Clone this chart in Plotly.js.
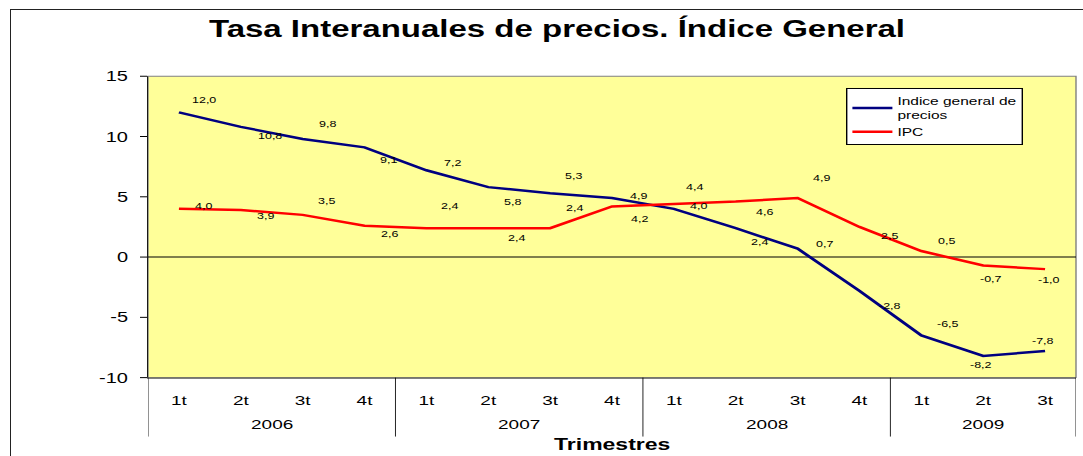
<!DOCTYPE html>
<html>
<head>
<meta charset="utf-8">
<script src="https://cdn.plot.ly/plotly-3.0.1.min.js"></script>
<style>
html,body{margin:0;padding:0;background:#fff;}
#wrap{width:1083px;height:456px;overflow:hidden;position:relative;}
#chart{width:1083px;height:640px;transform:scaleY(0.7125);transform-origin:0 0;}
#frame{position:absolute;left:10px;top:9px;width:1200px;height:600px;border-left:1px solid #222;border-top:1px solid #222;pointer-events:none;}
</style>
</head>
<body>
<div id="wrap"><div id="chart"></div><div id="frame"></div></div>
<script>
// ---- data ----
const years = ["2006","2006","2006","2006","2007","2007","2007","2007","2008","2008","2008","2008","2009","2009","2009"];
const quarters = ["1t","2t","3t","4t","1t","2t","3t","4t","1t","2t","3t","4t","1t","2t","3t"];
const indiceGeneral = [12.0, 10.8, 9.8, 9.1, 7.2, 5.8, 5.3, 4.9, 4.0, 2.4, 0.7, -2.8, -6.5, -8.2, -7.8];
const ipc = [4.0, 3.9, 3.5, 2.6, 2.4, 2.4, 2.4, 4.2, 4.4, 4.6, 4.9, 2.5, 0.5, -0.7, -1.0];
const yTicks = [-10, -5, 0, 5, 10, 15];
const seriesNames = ["Indice general de<br>precios", "IPC"];
const titleText = "Tasa Interanuales de precios. Índice General";
const xTitle = "Trimestres";

// ---- label placement (styling: pixel offsets of data labels) ----
const S = 640/456; // vertical stretch compensation
const offBlue = [[25,12],[29,-9],[25,15],[24,-13],[26,7],[24,-15],[23,17],[26,1],[25,2],[24,-14],[27,5],[31,-15],[27,11],[-2,-9],[-2,10]];
const offRed  = [[25,2],[25,-6],[24,13],[25,-9],[23,22],[28,-10],[24,20],[27,-12],[21,17],[29,-11],[24,20],[30,-9],[25,10],[8,-14],[4,-11]];

const FONT = "Liberation Sans, Arial, sans-serif";
const fmt = v => v.toFixed(1).replace('.', ',');
const PLOT_H = 423.5;

// category positions derived from the category arrays
const idx = quarters.map((q,i)=>i);
const groups = [];
years.forEach((y,i)=>{
  if(!groups.length || groups[groups.length-1].name !== y) groups.push({name:y, start:i, end:i});
  else groups[groups.length-1].end = i;
});
const bounds = [groups[0].start-0.5].concat(groups.map(g=>g.end+0.5));
const xr = [-0.5, quarters.length-0.5];

const traces = [
  {x:idx, y:indiceGeneral, type:'scatter', mode:'lines', name:seriesNames[0],
   line:{color:'#000080', width:3.5}},
  {x:idx, y:ipc, type:'scatter', mode:'lines', name:seriesNames[1],
   line:{color:'#FF0000', width:3.5}}
];

const annotations = [];
function addLabels(vals, offs){
  vals.forEach((v,i)=>{
    annotations.push({x:idx[i], y:v, xref:'x', yref:'y', text:fmt(v), showarrow:false,
      xanchor:'center', yanchor:'middle', xshift:offs[i][0], yshift:offs[i][1]*S,
      font:{family:FONT, size:12.5, color:'#000'}});
  });
}
addLabels(indiceGeneral, offBlue);
addLabels(ipc, offRed);

// year group labels (second category level)
groups.forEach(g=>{
  annotations.push({x:(g.start+g.end)/2, y:-66/PLOT_H, xref:'x', yref:'paper', text:g.name, showarrow:false,
    xanchor:'center', yanchor:'middle', font:{family:FONT, size:19, color:'#000'}});
});

// axis title
annotations.push({x:0.5, y:-93/PLOT_H, xref:'paper', yref:'paper', text:'<b>'+xTitle+'</b>', showarrow:false,
  xanchor:'center', yanchor:'middle', font:{family:FONT, size:23, color:'#000'}});

// year group dividers below the category axis
const dividerDepth = 59*S/PLOT_H;
const dividers = bounds.map(b=>({type:'line', xref:'x', yref:'paper', x0:b, x1:b, y0:0, y1:-dividerDepth,
  line:{color:'#000', width:1}}));

const layout = {
  width:1083, height:640,
  margin:{l:148, r:7, t:107, b:110},
  paper_bgcolor:'#ffffff',
  plot_bgcolor:'#FFFF99',
  font:{family:FONT, color:'#000'},
  title:{text:titleText, font:{family:FONT, size:33, color:'#000', weight:'bold'},
         x:557/1083, xref:'container', xanchor:'center', y:1-40/640, yref:'container', yanchor:'middle'},
  xaxis:{range:xr, tickmode:'array', tickvals:idx, ticktext:quarters, showgrid:false, zeroline:false,
         showline:true, linecolor:'#000', linewidth:1.4, ticks:'', ticklabelstandoff:14,
         tickfont:{family:FONT, size:19, color:'#000'}},
  yaxis:{range:[-10,15], tickmode:'array', tickvals:yTicks, ticktext:yTicks.map(String),
         showgrid:false, zeroline:true, zerolinecolor:'#000', zerolinewidth:1.4,
         showline:true, linecolor:'#000', linewidth:1, ticks:'outside', ticklen:7, tickcolor:'#000', tickwidth:1.4,
         ticklabelstandoff:8, tickfont:{family:FONT, size:20, color:'#000'}},
  showlegend:true,
  legend:{x:(846-148)/928, xanchor:'left', y:0.961, yanchor:'top', bgcolor:'#ffffff', bordercolor:'#000', borderwidth:1.4,
          font:{family:FONT, size:15.5, color:'#000'}, tracegroupgap:0, itemwidth:40},
  annotations: annotations,
  shapes:[
    {type:'rect', xref:'paper', yref:'paper', x0:0, x1:1, y0:0, y1:1, line:{color:'#808080', width:1.4}, layer:'below'}
  ].concat(dividers)
};

Plotly.newPlot('chart', traces, layout, {displayModeBar:false, staticPlot:true});
</script>
</body>
</html>
